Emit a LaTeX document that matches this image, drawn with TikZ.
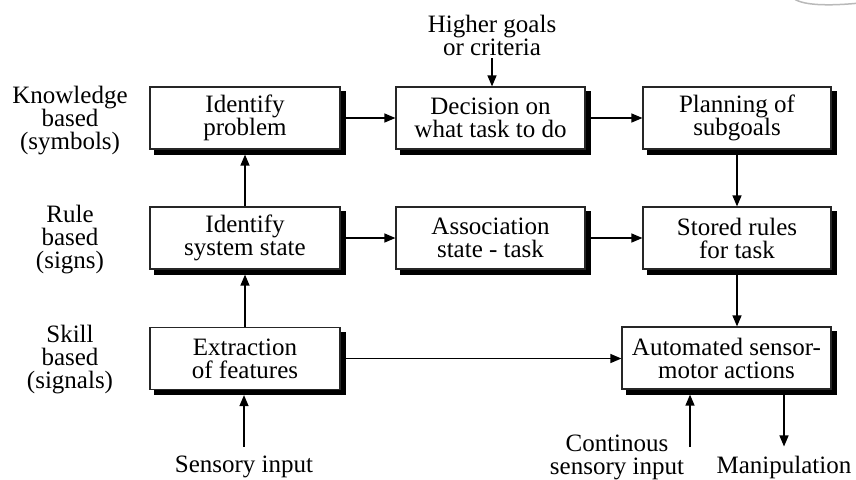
\documentclass[tikz,border=0pt]{standalone}
\usepackage{fontspec}
\setmainfont{Liberation Serif}
\usetikzlibrary{arrows.meta}
\begin{document}
\begin{tikzpicture}[x=1pt,y=-1pt,
  font=\fontsize{25}{23}\selectfont,
  box/.style={draw=black!85, line width=1.2pt, fill=white,
    minimum width=190pt, minimum height=62pt, align=center, inner sep=0pt},
  lbl/.style={align=center, inner sep=0pt},
  arr/.style={-{Triangle[length=11pt,width=9pt]}, line width=1.3pt},
  shadowbar/.style={inner sep=0pt, outer sep=0pt, anchor=north west}
]
\useasboundingbox (0,0) rectangle (856,479);

% faint stroke at the upper right edge
\draw[gray!55, line width=1.5pt] (792,-3) .. controls (800,6) and (830,6) .. (860,3);

% level labels
\node[lbl] (lk) at (70,121) {Knowledge\\based\\(symbols)};
\node[lbl] (lr) at (70,240) {Rule\\based\\(signs)};
\node[lbl] (ls) at (70,360) {Skill\\based\\(signals)};

% knowledge-based row
\node[box] (prob) at (245,118) {Identify\\problem};
\node[box, minimum width=189pt] (dec) at (490.5,118) {Decision on\\what task to do};
\node[box, minimum width=188pt] (plan) at (737,118) {Planning of\\subgoals};

% rule-based row
\node[box] (sys) at (245,238) {Identify\\system state};
\node[box, minimum width=189pt] (assoc) at (490.5,238) {Association\\state - task};
\node[box, minimum width=188pt] (rules) at (737,238) {Stored rules\\for task};

% skill-based row
\node[box] (feat) at (245,358.5) {Extraction\\of features};
\node[box, minimum width=209pt] (auto) at (726.5,358) {Automated sensor-\\motor actions};

% solid black shadow bars along the right and lower edge of every box
\foreach \bx/\bw in {prob/191.2,dec/190.2,plan/189.2,sys/191.2,assoc/190.2,rules/189.2,feat/191.2,auto/210.2}{
  \node[shadowbar] (\bx-sr) at ([shift={(0,5)}]\bx.north east) {\rule{5pt}{63.2pt}};
  \node[shadowbar] (\bx-sb) at ([shift={(5,0)}]\bx.south west) {\rule{\bw pt}{5pt}};
}

% inputs and outputs
\node[lbl] (goals) at (492,35) {Higher goals\\or criteria};
\node[lbl] (sens) at (244,467) {Sensory input};
\node[lbl] (csens) at (617,457) {Continous\\sensory input};
\node[lbl] (manip) at (784,467) {Manipulation};
\coordinate (cin) at (690,447);

% connectors
\draw[arr] (prob.east) -- (dec.west);
\draw[arr] (dec.east) -- (plan.west);
\draw[arr] (sys.east) -- (assoc.west);
\draw[arr] (assoc.east) -- (rules.west);
\draw[arr] (feat.east) -- (feat.east -| auto.west);
\draw[arr] (plan.south) -- (rules.north);
\draw[arr] (rules.south) -- (rules.south |- auto.north);
\draw[arr, shorten >=5pt] (sys.north) -- (prob.south);
\draw[arr, shorten >=5pt] (feat.north) -- (sys.south);
\draw[arr, shorten <=3pt] (goals.south) -- (goals.south |- dec.north);
\draw[arr, shorten <=9pt, shorten >=5pt] (sens.north) -- (sens.north |- feat.south);
\draw[arr, shorten >=5pt] (cin) -- (cin |- auto.south);
\draw[arr, shorten <=5pt, shorten >=9pt] (manip.north |- auto.south) -- (manip.north);
\end{tikzpicture}
\end{document}
